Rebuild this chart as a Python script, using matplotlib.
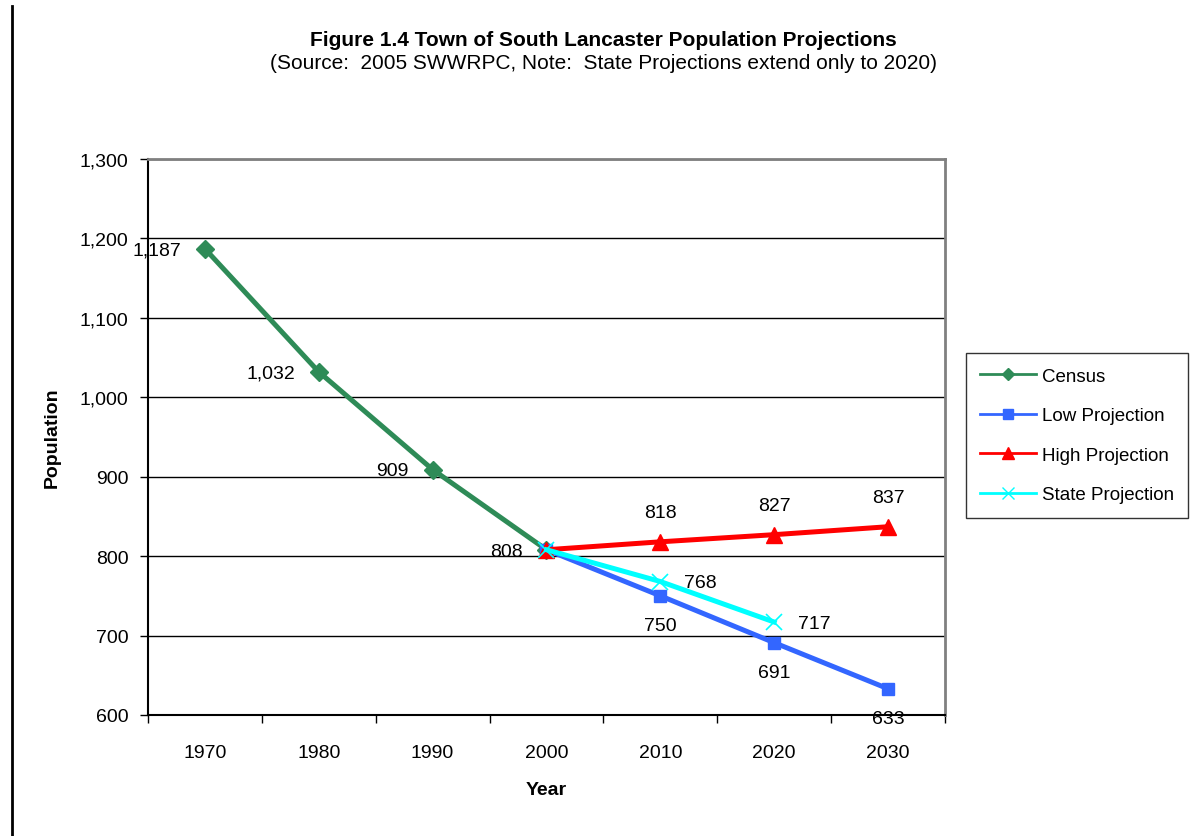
import matplotlib
matplotlib.use('Agg')
import matplotlib.pyplot as plt
from matplotlib.lines import Line2D

plt.rcParams['font.family'] = ['Liberation Sans', 'DejaVu Sans']

years = ['1970', '1980', '1990', '2000', '2010', '2020', '2030']
census = [1187, 1032, 909, 808]
low = [808, 750, 691, 633]
high = [808, 818, 827, 837]
state = [808, 768, 717]

census_x = [0, 1, 2, 3]
proj_x = [3, 4, 5, 6]
state_x = [3, 4, 5]

fig = plt.figure(figsize=(11.95, 8.37), dpi=100)
ax = fig.add_axes([0.1238, 0.1446, 0.667, 0.6643])

ax.plot(census_x, census, color='#2e8b57', lw=3.6, marker='D', ms=9, zorder=3)
ax.plot(proj_x, low, color='#3366ff', lw=3.6, marker='s', ms=9, zorder=3)
ax.plot(proj_x, high, color='#ff0000', lw=3.6, marker='^', ms=12, zorder=4)
ax.plot(state_x, state, color='#00ffff', lw=3.6, marker='x', ms=12, mew=1.2, zorder=5)

fs = 14
# data labels
for x, v in zip(census_x, census):
    ax.annotate(f'{v:,}', (x, v), xytext=(-17, -1), textcoords='offset points',
                ha='right', va='center', fontsize=fs)
for x, v in zip(proj_x[1:], low[1:]):
    ax.annotate(f'{v:,}', (x, v), xytext=(0, -15), textcoords='offset points',
                ha='center', va='top', fontsize=fs)
for x, v in zip(proj_x[1:], high[1:]):
    ax.annotate(f'{v:,}', (x, v), xytext=(0, 15), textcoords='offset points',
                ha='center', va='bottom', fontsize=fs)
for x, v in zip(state_x[1:], state[1:]):
    ax.annotate(f'{v:,}', (x, v), xytext=(17, -1), textcoords='offset points',
                ha='left', va='center', fontsize=fs)

ax.set_xlim(-0.5, 6.5)
ax.set_ylim(600, 1300)
ax.set_xticks(range(len(years)))
ax.set_xticklabels(years, fontsize=fs)
ax.set_xticks([i - 0.5 for i in range(len(years) + 1)], minor=True)
ax.tick_params(axis='x', which='major', length=0, pad=21)
ax.tick_params(axis='x', which='minor', length=6, width=1, direction='out')
ax.set_yticks(range(600, 1301, 100))
ax.set_yticklabels([f'{v:,}' for v in range(600, 1301, 100)], fontsize=fs)
ax.tick_params(axis='y', length=6, width=1, direction='out', pad=8)

ax.yaxis.grid(True, color='black', lw=1)
ax.set_axisbelow(True)
for s in ['top', 'right']:
    ax.spines[s].set_color('#808080')
    ax.spines[s].set_linewidth(2)
ax.spines['left'].set_linewidth(1.5)
ax.spines['bottom'].set_linewidth(1.5)

ax.set_xlabel('Year', fontsize=14, fontweight='bold', labelpad=14)
ax.set_ylabel('Population', fontsize=14, fontweight='bold', labelpad=14)

fig.text(0.505, 0.952, 'Figure 1.4 Town of South Lancaster Population Projections',
         ha='center', va='center', fontsize=15, fontweight='bold')
fig.text(0.505, 0.924, '(Source:  2005 SWWRPC, Note:  State Projections extend only to 2020)',
         ha='center', va='center', fontsize=15)

handles = [
    Line2D([], [], color='#2e8b57', lw=2, marker='D', ms=6),
    Line2D([], [], color='#3366ff', lw=2, marker='s', ms=7),
    Line2D([], [], color='#ff0000', lw=2, marker='^', ms=8),
    Line2D([], [], color='#00ffff', lw=2, marker='x', ms=8),
]
labels = ['Census', 'Low Projection', 'High Projection', 'State Projection']
leg = fig.legend(handles, labels, loc='center left', bbox_to_anchor=(0.8085, 0.4785),
                 fontsize=13.5, frameon=True, fancybox=False, edgecolor='black',
                 handlelength=3.0, labelspacing=1.2, borderpad=0.75, handletextpad=0.3,
                 borderaxespad=0)
leg.get_frame().set_linewidth(1)

fig.add_artist(Line2D([0.0100, 0.0100], [0.0, 0.992], color='black', lw=2,
                      transform=fig.transFigure))

fig.savefig('out.png', dpi=100)
